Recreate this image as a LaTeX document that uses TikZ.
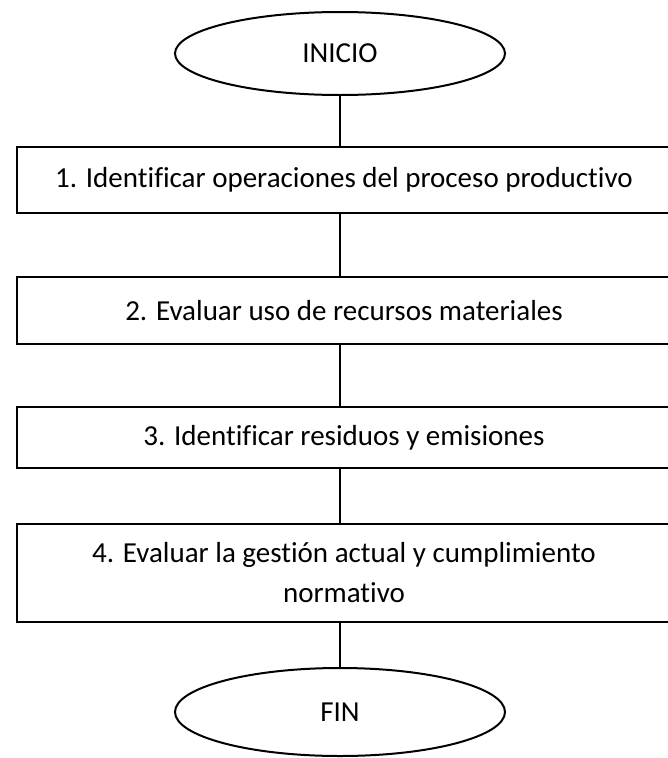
\documentclass[tikz,border=0pt]{standalone}
\usepackage{fontspec}
\setmainfont{Carlito}[Ligatures=NoCommon]
\usetikzlibrary{shapes.geometric}

\begin{document}
\begin{tikzpicture}[x=1pt,y=1pt,line width=2pt,
                font=\fontsize{29}{40}\selectfont,
                terminal/.style={draw,ellipse,inner sep=0pt,minimum width=330pt,minimum height=83pt},
                paso/.style={draw,rectangle,inner sep=0pt,minimum width=654pt,minimum height=#1,align=center},
                level 1/.style={level distance=126.5pt},
                level 2/.style={level distance=130.5pt},
                level 3/.style={level distance=127pt},
                level 4/.style={level distance=135.5pt},
                level 5/.style={level distance=139pt},
                edge from parent path={(\tikzparentnode.south -| inicio) -- (\tikzchildnode.north -| inicio)}]
                \useasboundingbox (0,0) rectangle (668,-758);
                \node[terminal] (inicio) at (340,-53.5) {INICIO}
                    child {node[paso=66pt,xshift=4pt] (paso1) {1. Identificar operaciones del proceso productivo}
                    child {node[paso=67pt] (paso2) {2. Evaluar uso de recursos materiales}
                    child {node[paso=61pt] (paso3) {3. Identificar residuos y emisiones}
                    child {node[paso=98pt] (paso4) {4. Evaluar la gestión actual y cumplimiento\\normativo}
                    child {node[terminal,minimum height=88pt,xshift=-4pt] (fin) {FIN}}}}}};
            \end{tikzpicture}
\end{document}
